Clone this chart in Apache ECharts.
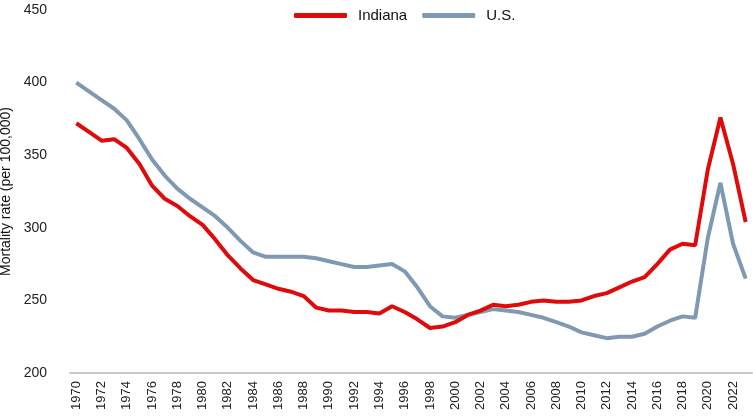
<!DOCTYPE html>
<html>
<head>
	<meta charset="utf-8">
	<title>Mortality rate</title>
	<script src="https://cdn.jsdelivr.net/npm/echarts@6/dist/echarts.min.js"></script>
	<style>
		html, body { margin:0; padding:0; background:#fff; }
		#main { width:753px; height:418px; }
	</style>
</head>
<body>
	<div id="main"></div>
<script type="text/javascript">
	var years = [];
	for (var y = 1970; y <= 2023; y++) years.push(String(y));

	var indiana = [372, 366, 360, 361, 355, 344, 329, 320, 315, 308,
		302, 292, 281, 272, 264, 261, 258, 256, 253, 245,
		243, 243, 242, 242, 241, 246, 242, 237, 231, 232,
		235, 240, 243, 247, 246, 247, 249, 250, 249, 249,
		250, 253, 255, 259, 263, 266, 275, 285, 289, 288,
		340, 376, 344, 304];

	var us = [400, 394, 388, 382, 374, 361, 347, 336, 327, 320,
		314, 308, 300, 291, 283, 280, 280, 280, 280, 279,
		277, 275, 273, 273, 274, 275, 270, 259, 246, 239,
		238, 240, 242, 244, 243, 242, 240, 238, 235, 232,
		228, 226, 224, 225, 225, 227, 232, 236, 239, 238,
		293, 331, 289, 265];

	var font = 'Liberation Sans';

	var myChart = echarts.init(document.getElementById('main'));
	myChart.setOption({
		animation: false,
		textStyle: { fontFamily: font },
		legend: {
			top: 3,
			left: 289,
			itemWidth: 53,
			itemHeight: 5,
			itemGap: 15,
			textStyle: { fontSize: 15, color: '#111', padding: [0, 0, 0, 6] },
			data: [
				{ name: 'Indiana', icon: 'roundRect' },
				{ name: 'U.S.', icon: 'roundRect' }
			]
		},
		grid: { left: 70, right: 1, top: 10, bottom: 45, outerBoundsMode: 'none' },
		xAxis: {
			type: 'category',
			data: years,
			boundaryGap: true,
			axisLine: { lineStyle: { color: '#c8c8c8', width: 2 } },
			axisTick: { show: false },
			axisLabel: { interval: 1, rotate: 90, fontSize: 13, color: '#222', margin: 8 }
		},
		yAxis: {
			type: 'value',
			min: 200,
			max: 450,
			interval: 50,
			name: 'Mortality rate (per 100,000)',
			nameLocation: 'middle',
			nameGap: 52,
			nameTextStyle: { fontSize: 14, color: '#111' },
			axisLine: { show: false },
			axisTick: { show: false },
			splitLine: { show: false },
			axisLabel: { fontSize: 14, color: '#222', margin: 23 }
		},
		series: [
			{
				name: 'Indiana',
				type: 'line',
				data: indiana,
				showSymbol: false,
				lineStyle: { color: '#df0b0b', width: 4 },
				itemStyle: { color: '#df0b0b' },
				z: 3
			},
			{
				name: 'U.S.',
				type: 'line',
				data: us,
				showSymbol: false,
				lineStyle: { color: '#7f99b2', width: 4 },
				itemStyle: { color: '#7f99b2' },
				z: 2
			}
		]
	});
</script>
</body>
</html>
